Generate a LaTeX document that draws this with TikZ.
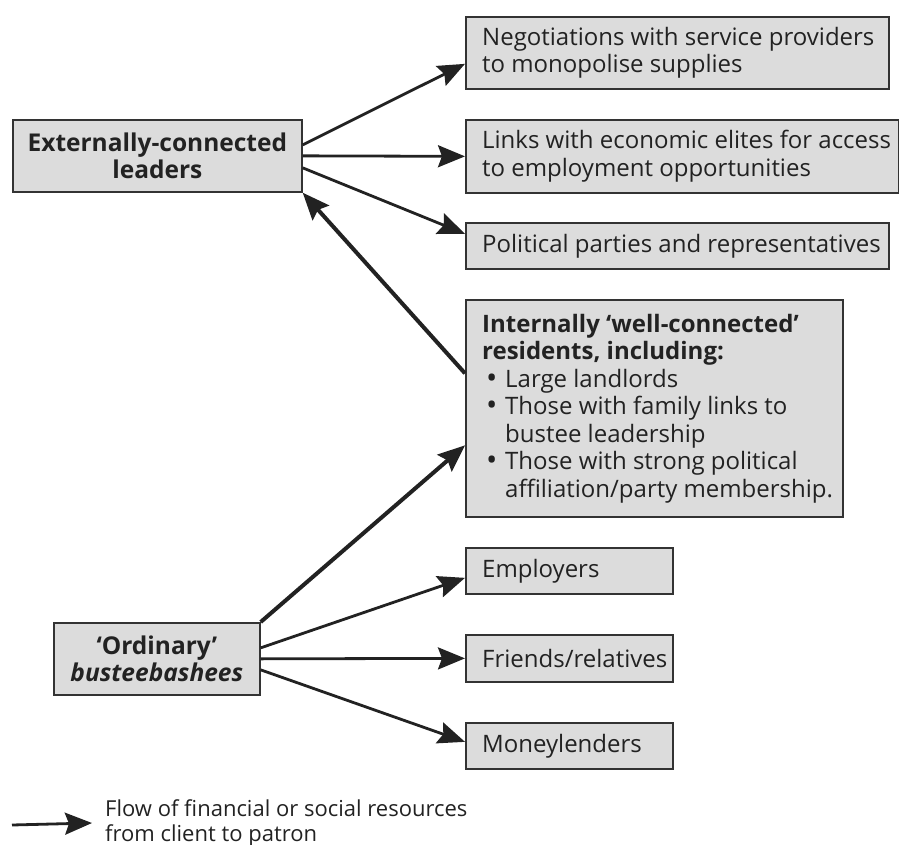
\documentclass[tikz,border=0pt]{standalone}
\usepackage{fontspec}
\setmainfont{Open Sans}
\usetikzlibrary{arrows.meta}

\definecolor{boxfill}{HTML}{DCDCDC}
\definecolor{boxline}{HTML}{333333}
\definecolor{ink}{HTML}{222222}

\newcommand{\bul}{\makebox[23pt][l]{\hspace{4pt}{\fontsize{30}{27.5}\selectfont\raisebox{-1pt}{•}}}}

\begin{document}
\begin{tikzpicture}[x=1pt,y=-1pt,
  box/.style={draw=boxline, fill=boxfill, line width=1.7pt, inner sep=0pt, anchor=north west},
  txt/.style={inner sep=0pt, align=left, text=ink, font=\fontsize{24}{27.5}\selectfont},
  headtxt/.style={inner sep=0pt, align=center, text=ink, font=\fontsize{24.5}{27}\selectfont\bfseries},
  legtxt/.style={inner sep=0pt, align=left, text=ink, font=\fontsize{22}{25}\selectfont},
  flow/.style={draw=ink, line width=2.8pt, -{Stealth[length=27pt,width=22pt,inset=4pt]}},
  strongflow/.style={flow, line width=4pt}]
\useasboundingbox (0,0) rectangle (899,845);

% sources
\node[box, minimum width=289pt, minimum height=72pt] (ext) at (12,119) {};
\node[headtxt] at (ext.center) {Externally-connected\\leaders};
\node[box, minimum width=206pt, minimum height=72pt] (ord) at (53,622) {};
\node[headtxt] at (ord.center) {‘Ordinary’\\\textit{busteebashees}};

% patrons of the leaders
\node[box, minimum width=423pt, minimum height=72pt] (neg) at (465,16) {};
\node[txt, anchor=west] at ([xshift=17pt]neg.west) {Negotiations with service providers\\to monopolise supplies};
\node[box, minimum width=433pt, minimum height=73pt] (lnk) at (465,119) {};
\node[txt, anchor=west] at ([xshift=17pt]lnk.west) {Links with economic elites for access\\to employment opportunities};
\node[box, minimum width=423pt, minimum height=46pt] (pol) at (465,222) {};
\node[txt, anchor=west] at ([xshift=17pt]pol.west) {Political parties and representatives};

% internal intermediaries
\node[box, minimum width=377pt, minimum height=217pt] (int) at (465,299) {};
\node[txt, anchor=west] at ([xshift=17pt]int.west) {%
  \textbf{Internally ‘well-connected’}\\
  \textbf{residents, including:}\\
  \bul Large landlords\\
  \bul Those with family links to\\
  \hspace*{23pt}bustee leadership\\
  \bul Those with strong political\\
  \hspace*{23pt}affiliation/party membership.};

% patrons of ordinary residents
\node[box, minimum width=207pt, minimum height=46pt] (emp) at (465,547) {};
\node[txt, anchor=west] at ([xshift=17pt]emp.west) {Employers};
\node[box, minimum width=207pt, minimum height=47pt] (fri) at (465,634) {};
\node[txt, anchor=west] at ([xshift=17pt]fri.west) {Friends/relatives};
\node[box, minimum width=207pt, minimum height=46pt] (mon) at (465,722) {};
\node[txt, anchor=west] at ([xshift=17pt]mon.west) {Moneylenders};

% flows from the leaders
\draw[flow] ([yshift=11pt]ext.east) -- ([yshift=-11pt]neg.west);
\draw[flow] (ext.east) -- (lnk.west);
\draw[flow] ([yshift=-12pt]ext.east) -- ([yshift=12pt]pol.west);
\draw[strongflow] ([yshift=35pt]int.west) -- (ext.south east);

% flows from ordinary residents
\draw[strongflow] (ord.north east) -- ([yshift=-37pt]int.west);
\draw[flow] ([yshift=11pt]ord.east) -- ([yshift=-7pt]emp.west);
\draw[flow] (ord.east) -- (fri.west);
\draw[flow] ([yshift=-11pt]ord.east) -- ([yshift=4pt]mon.west);

% key
\coordinate (keystart) at (12,825);
\node[legtxt, anchor=west] (key) at (105,823) {Flow of financial or social resources\\from client to patron};
\draw[flow] (keystart) -- ([xshift=-13pt]key.west);
\end{tikzpicture}
\end{document}
